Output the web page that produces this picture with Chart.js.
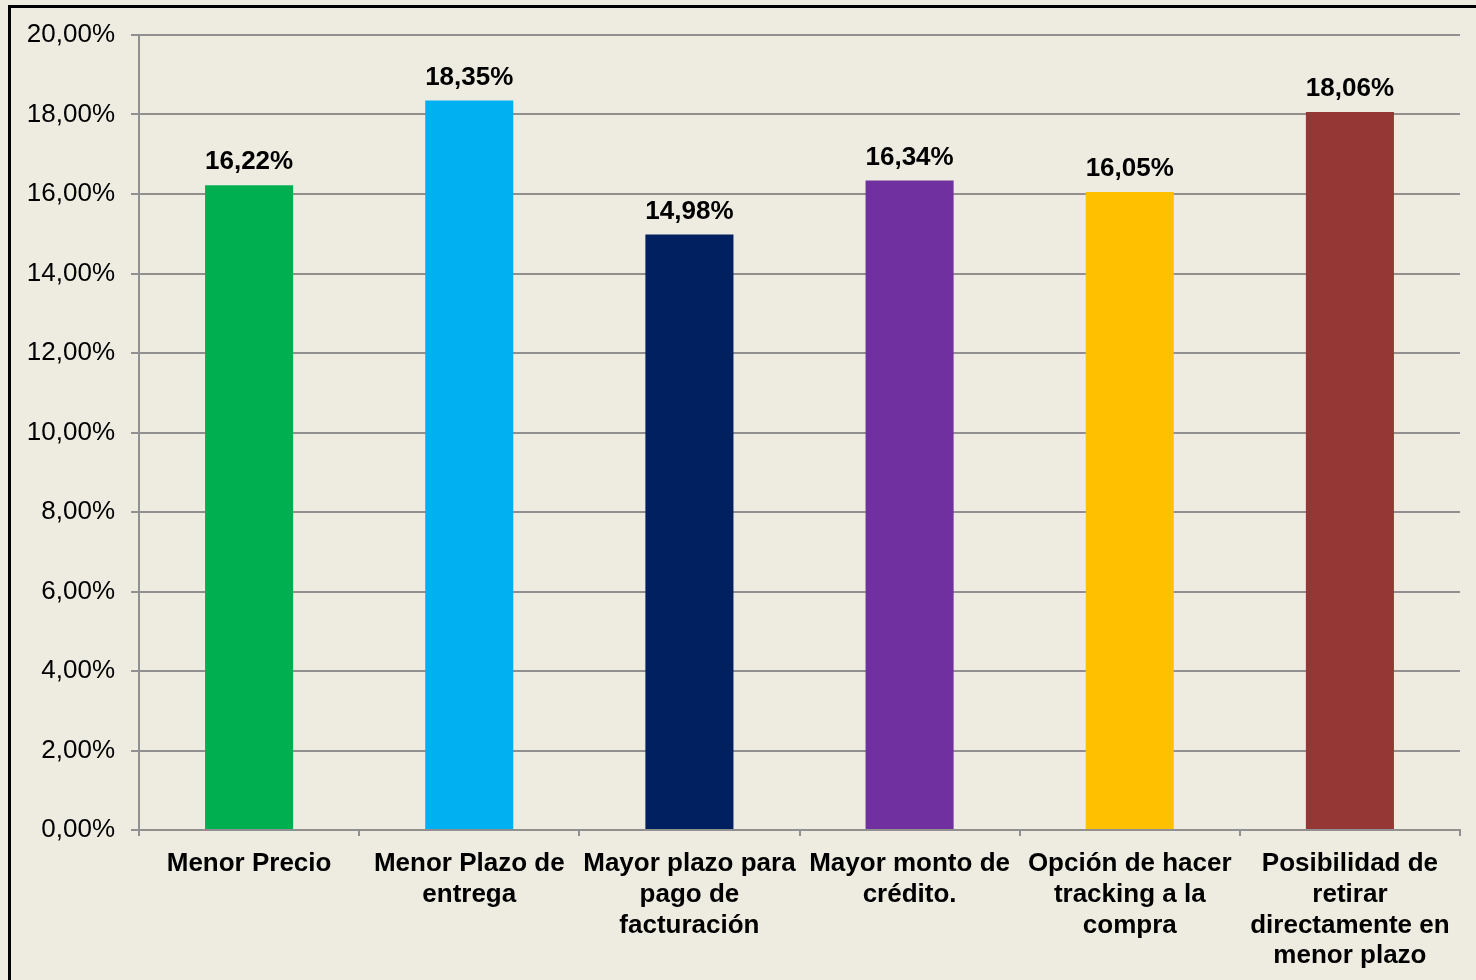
<!DOCTYPE html>
<html>
<head>
<meta charset="utf-8">
<script src="https://cdn.jsdelivr.net/npm/chart.js@4"></script>
<style>
    html, body { margin: 0; padding: 0; background: #EEECE1; overflow: hidden; }
    #wrap { position: relative; width: 1476px; height: 980px; }
    #frame {
        position: absolute; left: 8px; top: 5px; width: 1480px; height: 990px;
        border-left: 3px solid #000; border-top: 3px solid #000;
        pointer-events: none;
    }
</style>
</head>
<body>
<div id="wrap">
    <canvas id="myChart" width="1476" height="980"></canvas>
    <div id="frame"></div>
</div>
<script>
const categories = [
    'Menor Precio',
    ['Menor Plazo de', 'entrega'],
    ['Mayor plazo para', 'pago de', 'facturación'],
    ['Mayor monto de', 'crédito.'],
    ['Opción de hacer', 'tracking a la', 'compra'],
    ['Posibilidad de', 'retirar', 'directamente en', 'menor plazo']
];
const values = [16.22, 18.35, 14.98, 16.34, 16.05, 18.06];
const colors = ['#00B050', '#00B0F0', '#002060', '#7030A0', '#FFC000', '#953735'];

const FONT = '"Liberation Sans", Arial, sans-serif';
const pct = v => v.toFixed(2).replace('.', ',') + '%';

// value labels above each bar
const barLabels = {
    id: 'barLabels',
    afterDatasetsDraw(chart) {
        const c = chart.ctx;
        c.save();
        c.font = 'bold 26px ' + FONT;
        c.fillStyle = '#000';
        c.textAlign = 'center';
        c.textBaseline = 'bottom';
        chart.getDatasetMeta(0).data.forEach((bar, i) => {
            c.fillText(pct(values[i]), bar.x, bar.y - 10);
        });
        c.restore();
    }
};

const ctx = document.getElementById('myChart');

new Chart(ctx, {
    type: 'bar',
    data: {
        labels: categories,
        datasets: [{
            data: values,
            backgroundColor: colors,
            categoryPercentage: 1,
            barPercentage: 0.4
        }]
    },
    options: {
        responsive: false,
        animation: false,
        layout: { padding: { top: 35, right: 16, left: 0, bottom: 0 } },
        plugins: {
            legend: { display: false },
            tooltip: { enabled: false }
        },
        scales: {
            x: {
                grid: {
                    display: true,
                    drawOnChartArea: false,
                    drawTicks: true,
                    tickLength: 6,
                    color: '#909090',
                    lineWidth: 2
                },
                border: { color: '#909090', width: 2 },
                ticks: {
                    color: '#000',
                    padding: 12,
                    maxRotation: 0,
                    autoSkip: false,
                    font: { family: FONT, size: 26, weight: 'bold', lineHeight: 1.19 }
                },
                afterFit(scale) { scale.height = 150; }
            },
            y: {
                min: 0,
                max: 20,
                grid: {
                    color: '#909090',
                    lineWidth: 2,
                    tickLength: 8
                },
                border: { color: '#909090', width: 2 },
                ticks: {
                    stepSize: 2,
                    color: '#000',
                    padding: 16,
                    callback: v => pct(v),
                    font: { family: FONT, size: 26 }
                },
                afterFit(scale) { scale.width = 139; }
            }
        }
    },
    plugins: [barLabels]
});
</script>
</body>
</html>
